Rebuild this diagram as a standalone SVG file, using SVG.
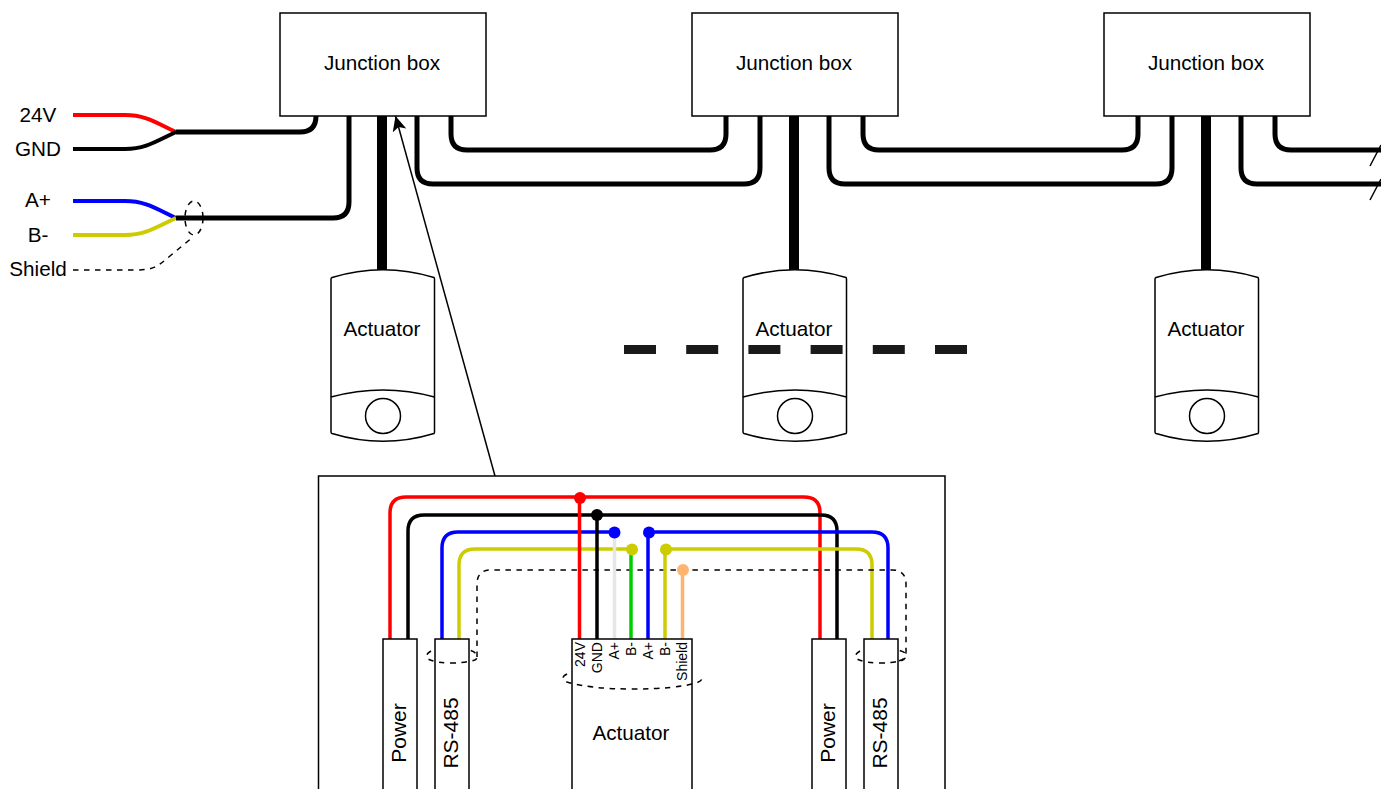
<svg xmlns="http://www.w3.org/2000/svg" width="1381" height="789" viewBox="0 0 1381 789">
<defs>
<style>
text{font-family:"Liberation Sans",Arial,sans-serif;font-size:20.7px;fill:#000;text-anchor:middle;dominant-baseline:central}
.pin{font-size:14px;text-anchor:end}
.rot{font-size:21px}
.box{fill:#fff;stroke:#000;stroke-width:1.5}
.w{fill:none;stroke:#000;stroke-width:4;stroke-linejoin:round}
.b{stroke-width:5}
.d{stroke-width:3.5}
.t{fill:none;stroke-width:3.5}
.thin{fill:none;stroke:#000;stroke-width:1.5}
.dash{fill:none;stroke:#000;stroke-width:1.5;stroke-dasharray:5.500 5.500}
</style>
<g id="actuatorShape">
<path class="box" d="M331 279Q331 278 332 277.500Q383 262 434 277.500Q434.500 278 434.500 279V432Q434.500 433 434 433.500Q383 449 332 433.500Q331 433 331 432Z"/>
<path class="thin" d="M331 397Q383 383 434.500 397"/>
<circle class="thin" cx="383" cy="416" r="17.500"/>
</g>
<marker id="ah" markerWidth="16" markerHeight="15" refX="15" refY="7" orient="auto" markerUnits="userSpaceOnUse"><path d="M0 0L15 7L0 14L3.500 7Z" fill="#000"/></marker>
</defs>
<rect width="1381" height="789" fill="#fff"/>
<g id="connectors">
<path class="w" style="stroke:#f00" d="M73 115H125C145 115 155 122 176 132"/>
<path class="w" d="M73 149H125C145 149 155 142 176 132"/>
<path class="w b" d="M176 132H300Q316 132 316 116"/>
<path class="w" style="stroke:#00f" d="M73 201H125C145 201 155 208 176 218"/>
<path class="w" style="stroke:#cc0" d="M73 235H125C145 235 155 228 176 218"/>
<path class="w b" d="M176 218H333Q349 218 349 202V116"/>
<path class="dash" d="M73 270H135C155 270 158 266 170 256L193 237"/>
<ellipse class="dash" cx="194" cy="218" rx="9" ry="17"/>
<path class="w" style="stroke-width:10" d="M382 116V270M794 116V270M1206 116V270"/>
<path class="w b" d="M417 116V168Q417 184 433 184H744Q760 184 760 168V116M451 116V134Q451 150 467 150H710Q726 150 726 134V116"/>
<path class="w b" d="M829 116V168Q829 184 845 184H1156Q1172 184 1172 168V116M863 116V134Q863 150 879 150H1122Q1138 150 1138 134V116"/>
<path class="w b" d="M1241 116V168Q1241 184 1257 184H1381M1275 116V134Q1275 150 1291 150H1381"/>
<path class="thin" d="M1370 166L1381 145M1370 200L1381 179"/>
<path class="thin" marker-end="url(#ah)" d="M495 476L395.500 116"/>
</g>
<g id="junction1"><rect class="box" x="280" y="13" width="206" height="103"/><text x="382" y="62">Junction box</text></g>
<g id="junction2"><rect class="box" x="692" y="13" width="206" height="103"/><text x="794" y="62">Junction box</text></g>
<g id="junction3"><rect class="box" x="1104" y="13" width="206" height="103"/><text x="1206" y="62">Junction box</text></g>
<g id="labels">
<text x="38" y="114">24V</text><text x="38" y="148">GND</text><text x="38" y="199">A+</text><text x="38" y="234">B-</text><text x="38" y="268">Shield</text>
</g>
<g id="actuator1"><use href="#actuatorShape"/><text x="382" y="328">Actuator</text></g>
<g id="actuator2"><use href="#actuatorShape" x="412"/><text x="794" y="328">Actuator</text></g>
<g id="actuator3"><use href="#actuatorShape" x="824"/><text x="1206" y="328">Actuator</text></g>
<path id="dashes" d="M624 349.500H967" fill="none" stroke="#1a1a1a" stroke-width="9" stroke-dasharray="32 30.200"/>
<g id="detail">
<path class="box" d="M318.500 789V476H945V789" fill="#fff"/>
<path class="w d" style="stroke:#f00" d="M390 639V513Q390 497 406 497H804Q820 497 820 513V639"/>
<path class="w d" d="M408 639V531Q408 515 424 515H821Q837 515 837 531V639"/>
<path class="w d" style="stroke:#00f" d="M442 639V548Q442 532 458 532H614"/>
<path class="w d" style="stroke:#cc0" d="M459 639V565Q459 549 475 549H632"/>
<path class="w d" style="stroke:#00f" d="M649 532H872Q888 532 888 548V639"/>
<path class="w d" style="stroke:#cc0" d="M666 549H856Q872 549 872 565V639"/>
<path class="dash" d="M477 657V584Q477 570 491 570H892Q906 570 906 584V652Q906 660 898 661"/>
<path class="t" stroke="#f00" d="M579.500 639V497"/>
<path class="t" stroke="#000" d="M597 639V515"/>
<path class="t" stroke="#e6e6e6" d="M614.500 639V532"/>
<path class="t" stroke="#0c0" d="M631 639V549"/>
<path class="t" stroke="#00f" d="M648 639V532"/>
<path class="t" stroke="#cc0" d="M665 639V549"/>
<path class="t" stroke="#ffb570" d="M682.500 639V570"/>
<circle cx="580" cy="498" r="6" fill="#f00"/>
<circle cx="597" cy="515" r="6" fill="#000"/>
<circle cx="614.500" cy="532.500" r="6" fill="#00f"/>
<circle cx="632" cy="549.500" r="6" fill="#cc0"/>
<circle cx="649" cy="532.500" r="6" fill="#00f"/>
<circle cx="666" cy="549.500" r="6" fill="#cc0"/>
<circle cx="683" cy="570" r="6" fill="#ffb570"/>
</g>
<g id="power1"><rect class="box" x="383" y="639" width="34" height="160"/><text class="rot" transform="translate(398 733) rotate(-90)">Power</text></g>
<g id="rs485-1"><rect class="box" x="435" y="639" width="34" height="160"/><text class="rot" transform="translate(450 733) rotate(-90)">RS-485</text></g>
<g id="actuatorDetail"><rect class="box" x="572" y="639" width="120" height="160"/><text x="631" y="732">Actuator</text>
<text class="pin" transform="translate(579.500 642) rotate(-90)">24V</text>
<text class="pin" transform="translate(596.500 642) rotate(-90)">GND</text>
<text class="pin" transform="translate(613.500 642) rotate(-90)">A+</text>
<text class="pin" transform="translate(630.500 642) rotate(-90)">B-</text>
<text class="pin" transform="translate(647.500 642) rotate(-90)">A+</text>
<text class="pin" transform="translate(664.500 642) rotate(-90)">B-</text>
<text class="pin" transform="translate(681.500 642) rotate(-90)">Shield</text></g>
<g id="power2"><rect class="box" x="812" y="639" width="34" height="160"/><text class="rot" transform="translate(827 733) rotate(-90)">Power</text></g>
<g id="rs485-2"><rect class="box" x="864" y="639" width="34" height="160"/><text class="rot" transform="translate(879 733) rotate(-90)">RS-485</text></g>
<g id="shieldArcs">
<path class="dash" d="M431 651Q424 655 428 659Q436 663 452 663Q464 663 470 661Q477 661 477 657Q477 652 469 650"/>
<path class="dash" d="M860 651Q853 655 857 659Q865 663 881 663Q893 663 899 661Q906 661 906 654Q905 652 898 650"/>
<path class="dash" d="M567 674Q559 678 567 682Q590 689 632 689Q675 689 696 683Q705 680 700 676"/>
</g>
</svg>
